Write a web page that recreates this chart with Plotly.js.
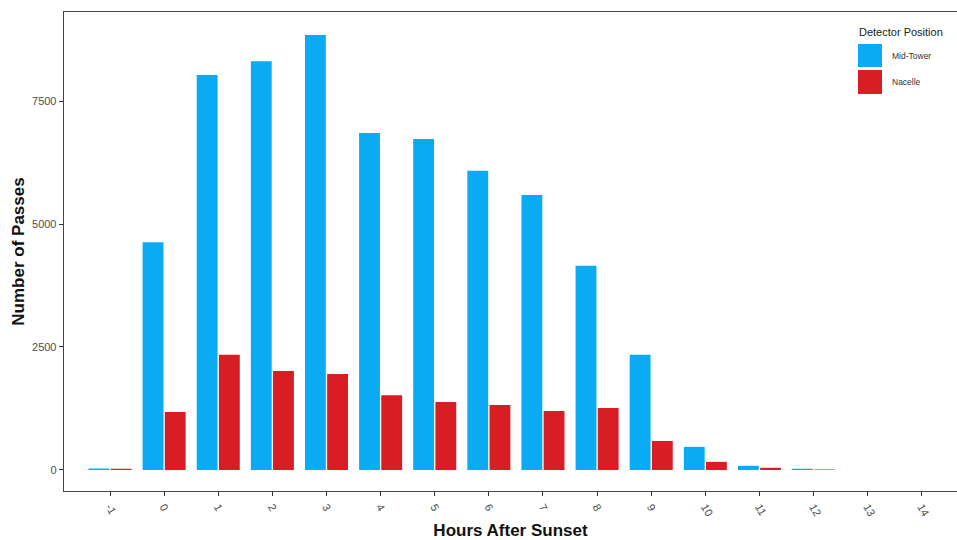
<!DOCTYPE html>
<html>
<head>
<meta charset="utf-8">
<script src="https://cdn.plot.ly/plotly-3.0.1.min.js"></script>
<style>html,body{margin:0;padding:0;background:#fff;}#chart{width:957px;height:540px;}</style>
</head>
<body>
<div id="chart"></div>
<script>
const hours = [-1, 0, 1, 2, 3, 4, 5, 6, 7, 8, 9, 10, 11, 12, 13, 14];
const tickLabels = ["-1","0","1","2","3","4","5","6","7","8","9","10","11","12","13","14"];
const midTower = [30, 4630, 8030, 8310, 8840, 6850, 6730, 6080, 5590, 4150, 2340, 470, 85, 25, 0, 0];
const nacelle  = [25, 1180, 2340, 2010, 1950, 1520, 1380, 1320, 1200, 1260, 590, 165, 45, 10, 0, 0];
const seriesNames = ["Mid-Tower", "Nacelle"];
const seriesColors = ["#0AABF2", "#D81E24"];

const traces = [
  {type:'bar', x:hours, y:midTower, name:seriesNames[0], marker:{color:seriesColors[0], line:{width:0}}, showlegend:false},
  {type:'bar', x:hours, y:nacelle, name:seriesNames[1], marker:{color:seriesColors[1], line:{width:0}}, showlegend:false}
];

const axisFont = {family:'Liberation Sans, Arial, sans-serif', size:11, color:'#4d4d4d'};
const layout = {
  width:957, height:540,
  margin:{l:64, r:0, t:12, b:49},
  paper_bgcolor:'#fff', plot_bgcolor:'#fff',
  barmode:'group', bargap:0.18, bargroupgap:0.06,
  xaxis:{
    range:[-1.85, 14.65], tickmode:'array', tickvals:hours, ticktext:tickLabels,
    tickangle:60, ticks:'outside', ticklen:4, tickcolor:'#333', tickfont:axisFont,
    showgrid:false, zeroline:false, showline:true, linecolor:'#444', linewidth:1.3, mirror:true,
    title:{text:'Hours After Sunset', font:{family:'Liberation Sans, Arial, sans-serif', size:17, color:'#111', weight:'bold'}, standoff:6}
  },
  yaxis:{
    range:[-427, 9309], tickmode:'array', tickvals:[0,2500,5000,7500], ticktext:['0','2500','5000','7500'],
    ticks:'outside', ticklen:4, tickcolor:'#333', tickfont:axisFont,
    showgrid:false, zeroline:false, showline:true, linecolor:'#444', linewidth:1.3, mirror:true,
    title:{text:'Number of Passes', font:{family:'Liberation Sans, Arial, sans-serif', size:17, color:'#111', weight:'bold'}, standoff:3}
  },
  shapes:[
    {type:'rect', xref:'paper', yref:'paper', x0:(858-64)/893, x1:(882-64)/893, y0:(491-67)/479, y1:(491-44)/479, fillcolor:seriesColors[0], line:{width:0}},
    {type:'rect', xref:'paper', yref:'paper', x0:(858-64)/893, x1:(882-64)/893, y0:(491-94)/479, y1:(491-70)/479, fillcolor:seriesColors[1], line:{width:0}}
  ],
  annotations:[
    {xref:'paper', yref:'paper', x:(857-64)/893, y:(491-32)/479, xanchor:'left', yanchor:'middle', showarrow:false, text:'Detector Position', font:{family:'Liberation Sans, Arial, sans-serif', size:11, color:'#222'}},
    {xref:'paper', yref:'paper', x:(890-64)/893, y:(491-56)/479, xanchor:'left', yanchor:'middle', showarrow:false, text:seriesNames[0], font:{family:'Liberation Sans, Arial, sans-serif', size:8.5, color:'#333'}},
    {xref:'paper', yref:'paper', x:(890-64)/893, y:(491-82)/479, xanchor:'left', yanchor:'middle', showarrow:false, text:seriesNames[1], font:{family:'Liberation Sans, Arial, sans-serif', size:8.5, color:'#333'}}
  ]
};
Plotly.newPlot('chart', traces, layout, {displayModeBar:false, staticPlot:true});
</script>
</body>
</html>
